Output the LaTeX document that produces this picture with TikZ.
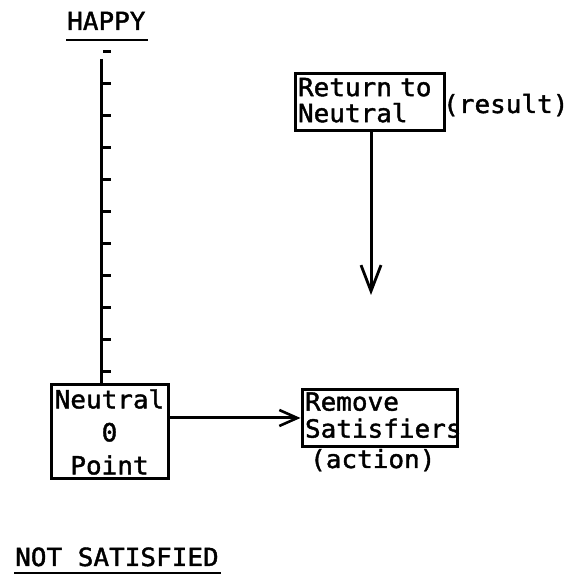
\documentclass[tikz,border=0pt]{standalone}
\usepackage{fontspec}
\usetikzlibrary{arrows.meta}
\newfontfamily\typefont[FakeStretch=1.04,FakeBold=1.6]{DejaVu Sans Mono}
\newcommand\lowdepth[1]{\rule[-#1]{0pt}{#1}}
\begin{document}
\begin{tikzpicture}[x=1pt,y=1pt,
  every node/.style={font=\typefont\fontsize{25}{29}\selectfont, inner sep=0pt},
  framebox/.style={draw, line width=3pt, inner xsep=3pt, inner ysep=0pt},
  uline/.style={line width=2.4pt},
  axis/.style={line width=3pt},
  tick/.style={line width=3pt},
  harrow/.style={line width=3pt, -{Straight Barb[length=18pt,width=16pt,line width=2.6pt]}},
  varrow/.style={line width=3pt, -{Straight Barb[length=26pt,width=20pt,line width=2.8pt]}}]
\useasboundingbox (0,0) rectangle (569,576);

% scale headings
\node[anchor=base west] (happy) at (67,546) {HAPPY};
\draw[uline] ([shift={(-1pt,-10pt)}]happy.base west) -- ([shift={(2pt,-10pt)}]happy.base east);
\node[anchor=base west] (notsat) at (15,10) {NOT SATISFIED};
\draw[uline] ([shift={(-1pt,-7pt)}]notsat.base west) -- ([shift={(2pt,-7pt)}]notsat.base east);

% boxes
\node[framebox, minimum width=117pt, minimum height=94pt, text width=111pt, align=center,
      font=\typefont\fontsize{25}{33}\selectfont]
  (neutral) at (109.5,144) {Neutral\\0\\Point};
\node[framebox, minimum width=155pt, minimum height=57pt, text width=149pt, align=left,
      font=\typefont\fontsize{25}{27}\selectfont]
  (remove) at (379.5,158) {Remove\\Satisfiers\lowdepth{6pt}};
\node[framebox, minimum width=149pt, minimum height=57pt, text width=143pt, align=left,
      font=\typefont\fontsize{25}{26}\selectfont]
  (ret) at (369.5,473.5) {Return to\\Neutral\lowdepth{5pt}};

% side labels
\node[anchor=base west] (action) at (310,108) {(action)};
\node[anchor=base west] (result) at (443,463) {(result)};

% vertical scale with ticks
\coordinate (axtop) at (101,517);
\draw[axis] (axtop) -- (axtop |- neutral.north);
\foreach \k in {0,...,10}
  \draw[tick] (103,524-32*\k) -- (111,524-32*\k);

% connectors
\draw[harrow] ([yshift=14pt]neutral.east) -- (remove.west);
\coordinate (tip) at (371,281);
\draw[varrow] (ret.south -| tip) -- (tip);
\end{tikzpicture}
\end{document}
